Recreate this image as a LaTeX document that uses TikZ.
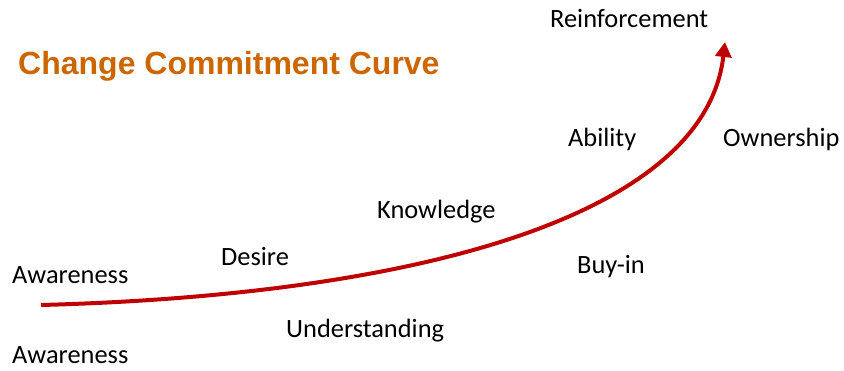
\documentclass[tikz,border=0pt]{standalone}
\usepackage{fontspec}
\usetikzlibrary{arrows.meta}
\newfontfamily\stagefont{Carlito}
\newfontfamily\headfont{Liberation Sans}
\definecolor{curvered}{RGB}{192,0,0}
\definecolor{headorange}{RGB}{204,102,0}
\begin{document}
\begin{tikzpicture}[x=1pt,y=-1pt,
  stage/.style={anchor=base west,inner sep=0pt,text=black,
    font=\stagefont\fontsize{26.4}{30}\selectfont},
  heading/.style={anchor=base west,inner sep=0pt,text=headorange,
    font=\headfont\bfseries\fontsize{32}{38}\selectfont},
  commitment/.style={draw=curvered,line width=4pt,
    -{Triangle[length=15pt,width=16pt]}}]
\useasboundingbox (0,0) rectangle (844,371);

% heading
\node[heading] (title) at (18,75) {Change Commitment Curve};

% stage labels
\node[stage] (reinf) at (550,28) {Reinforcement};
\node[stage] (ability) at (568,147) {Ability};
\node[stage] (owner) at (723,147) {Ownership};
\node[stage] (know) at (377,219) {Knowledge};
\node[stage] (desire) at (221,266) {Desire};
\node[stage] (buyin) at (577,274) {Buy-in};
\node[stage] (aware1) at (12,284) {Awareness};
\node[stage] (under) at (286,338) {Understanding};
\node[stage] (aware2) at (12,364) {Awareness};

% the rising commitment curve
\coordinate (cstart) at (41,305);
\coordinate (cend) at (725,42);
\draw[commitment] (cstart) .. controls (420,295) and (705,215) .. (cend);
\end{tikzpicture}
\end{document}
